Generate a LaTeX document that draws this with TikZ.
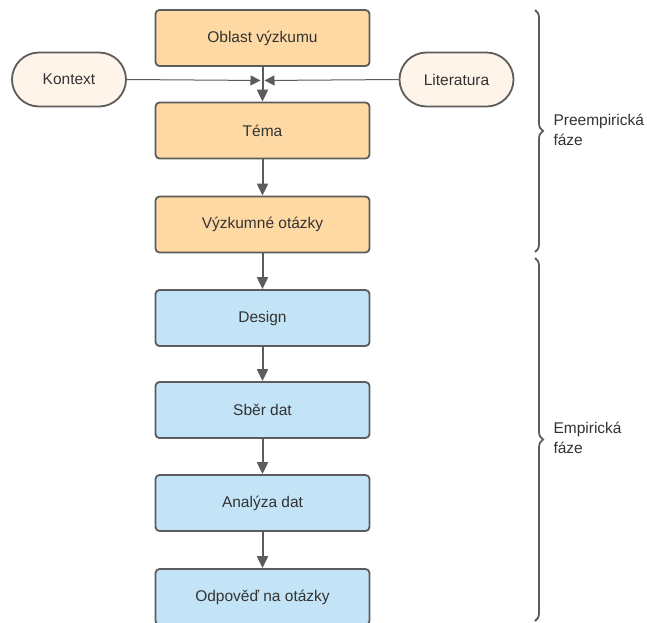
\documentclass[tikz,border=0pt]{standalone}
\usepackage{fontspec}
\setmainfont{Liberation Sans}
\usetikzlibrary{arrows.meta,decorations.pathreplacing,shapes.misc}
\definecolor{orfill}{HTML}{FFD9A3}
\definecolor{blfill}{HTML}{C3E3F6}
\definecolor{stfill}{HTML}{FFF4E9}
\definecolor{edge}{HTML}{5C5C5C}
\definecolor{txt}{HTML}{333333}
\begin{document}
\begin{tikzpicture}[x=1pt,y=-1pt,
  box/.style={draw=edge,line width=1.8pt,rounded corners=4pt,minimum width=214pt,minimum height=56pt,inner sep=0pt,text=txt,font=\fontsize{15.5}{18}\selectfont},
  obox/.style={box,fill=orfill},
  bbox/.style={box,fill=blfill},
  stad/.style={draw=edge,line width=1.8pt,rounded rectangle,fill=stfill,minimum width=114pt,minimum height=54pt,inner sep=0pt,text=txt,font=\fontsize{15.5}{18}\selectfont},
  arr/.style={draw=edge,line width=2pt,-{Triangle[length=12pt,width=11pt]}},
  harr/.style={draw=edge,line width=1pt,-{Triangle[length=10pt,width=10pt]}},
  brc/.style={draw=edge,line width=1.8pt,decorate,decoration={brace,amplitude=8pt}},
  lbl/.style={anchor=west,align=left,text=txt,font=\fontsize{15.5}{20}\selectfont}
]
\useasboundingbox (0,0) rectangle (647,622);
\clip (0,0) rectangle (647,622);
\fill[white] (0,0) rectangle (647,622);
\node[obox] (oblast) at (262.5,38) {Oblast výzkumu};
\node[obox] (tema) at (262.5,130.5) {Téma};
\node[obox] (otazky) at (262.5,224.5) {Výzkumné otázky};
\node[bbox] (design) at (262.5,318) {Design};
\node[bbox] (sber) at (262.5,410) {Sběr dat};
\node[bbox] (analyza) at (262.5,503) {Analýza dat};
\node[bbox] (odpoved) at (262.5,597) {Odpověď na otázky};
\node[stad] (kontext) at (69,79.5) {Kontext};
\node[stad] (lit) at (456.5,79.5) {Literatura};
\coordinate (m) at (262.5,80.5);
\draw[harr,shorten >=2pt] (kontext.east) -- (m);
\draw[harr,shorten >=2pt] (lit.west) -- (m);
\draw[arr] (oblast) -- (tema);
\draw[arr] (tema) -- (otazky);
\draw[arr] (otazky) -- (design);
\draw[arr] (design) -- (sber);
\draw[arr] (sber) -- (analyza);
\draw[arr] (analyza) -- (odpoved);
\coordinate (b1) at (535,10);
\coordinate (b2) at (535,252);
\coordinate (b3) at (535,258);
\coordinate (b4) at (535,621);
\draw[brc] (b1) -- (b2);
\draw[brc] (b3) -- (b4);
\node[lbl] (pre) at (550,130) {Preempirická\\fáze};
\node[lbl] (emp) at (550,438) {Empirická\\fáze};
\end{tikzpicture}
\end{document}
